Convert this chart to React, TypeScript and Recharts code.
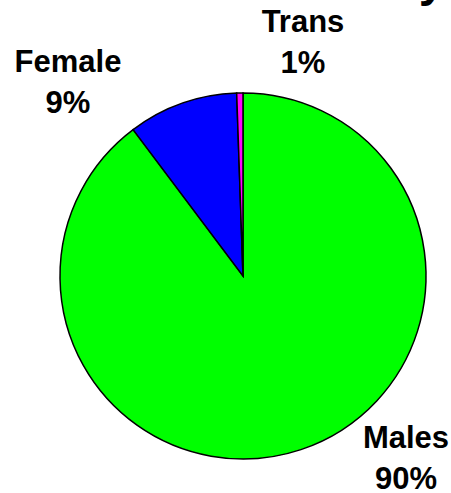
import { PieChart, Pie, Cell } from 'recharts';

// Gender breakdown
const categories = ['Males', 'Female', 'Trans'];
const shares = [89.75, 9.7, 0.55];
const shareLabels = ['90%', '9%', '1%'];
const colors = ['#00ff00', '#0000ff', '#ff00ff'];

// label anchor offsets from pie centre (first line baseline)
const labelOffsets = [
  [163, 172],
  [-175, -204],
  [60, -244],
];

const data = categories.map((name, i) => ({ name, value: shares[i] }));

const FONT = '"Liberation Sans", Arial, sans-serif';

function renderLabel(props: any) {
  const { cx, cy, index } = props;
  const [dx, dy] = labelOffsets[index];
  return (
    <text
      x={cx + dx}
      y={cy + dy}
      textAnchor="middle"
      fill="#000"
      fontFamily={FONT}
      fontWeight="bold"
      fontSize={31}
    >
      <tspan x={cx + dx}>{categories[index]}</tspan>
      <tspan x={cx + dx} dy={41}>
        {shareLabels[index]}
      </tspan>
    </text>
  );
}

export default function App() {
  return (
    <div style={{ position: 'absolute', left: 0, top: 0, background: '#fff' }}>
      <PieChart width={451} height={493} margin={{ top: 0, right: 0, bottom: 0, left: 0 }} style={{ overflow: 'hidden' }}>
        {/* tail of a title that is cropped off the top edge */}
        <text x={432} y={-4} textAnchor="middle" fontFamily={FONT} fontWeight="bold" fontSize={48} fill="#000">
          y
        </text>
        <Pie
          data={data}
          dataKey="value"
          cx={243}
          cy={276}
          outerRadius={183}
          startAngle={90}
          endAngle={-270}
          stroke="#000"
          strokeWidth={1.5}
          label={renderLabel}
          labelLine={false}
          isAnimationActive={false}
        >
          {data.map((d, i) => (
            <Cell key={d.name} fill={colors[i]} />
          ))}
        </Pie>
      </PieChart>
    </div>
  );
}
